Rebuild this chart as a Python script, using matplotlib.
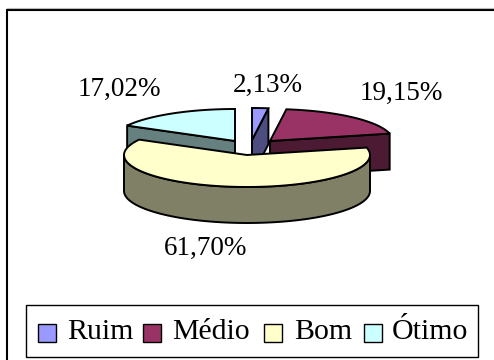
import numpy as np
import matplotlib
matplotlib.use('Agg')
import matplotlib.pyplot as plt
from matplotlib.patches import Polygon, Rectangle

# Data
categories = ['Ruim', 'Médio', 'Bom', 'Ótimo']
values = [2.13, 19.15, 61.70, 17.02]
value_labels = ['2,13%', '19,15%', '61,70%', '17,02%']

# Colours
top_colors = ['#9999FF', '#993366', '#FFFFCC', '#CCFFFF']
side_colors = ['#4D4D80', '#4D1A33', '#808066', '#668080']

# Pie geometry, in pixels
cx, cy = 247, 155
rx, ry = 123, 32
depth = 36
explode = [(5, -15), (23, -14), (0, 0), (-12, -14)]
label_pos = [(268, 85), (401, 93), (206, 248), (119, 89)]


def project(angle, dx, dy):
    # angle runs clockwise from twelve o'clock
    x = cx + dx + rx * np.sin(angle)
    y = cy + dy - ry * np.cos(angle)
    return np.column_stack([x, y])


def draw_slice(ax, a0, a1, offset, top, side, zorder):
    dx, dy = offset
    apex = np.array([[cx + dx, cy + dy]])
    down = np.array([[0, depth]])
    arc = project(np.linspace(a0, a1, 80), dx, dy)
    lw = 1.4

    # only the faces turned towards the viewer get drawn
    ends = []
    if a1 < np.pi:
        ends.append(arc[-1:])
    if a0 > np.pi:
        ends.append(arc[:1])
    for end in ends:
        face = np.vstack([apex, end, end + down, apex + down])
        ax.add_patch(Polygon(face, closed=True, fc=side, ec='black', lw=lw, zorder=zorder))

    w0, w1 = max(a0, np.pi / 2), min(a1, 3 * np.pi / 2)
    if w0 < w1:
        rim = project(np.linspace(w0, w1, 80), dx, dy)
        wall = np.vstack([rim, (rim + down)[::-1]])
        ax.add_patch(Polygon(wall, closed=True, fc=side, ec='black', lw=lw, zorder=zorder))

    ax.add_patch(Polygon(np.vstack([apex, arc]), closed=True, fc=top, ec='black', lw=lw, zorder=zorder))


fig = plt.figure(figsize=(4.94, 3.60), dpi=100)
ax = fig.add_axes([0, 0, 1, 1])
ax.set_xlim(0, 494)
ax.set_ylim(360, 0)
ax.axis('off')

serif = ['Liberation Serif', 'DejaVu Serif']

# Chart area frame, cut by the image on the right and at the bottom
ax.plot([6.5, 6.5], [360, 9.5], color='black', lw=1.5, solid_capstyle='projecting')
ax.plot([6.5, 494], [9.5, 9.5], color='black', lw=1.5, solid_capstyle='butt')
ax.plot([6.5, 494], [8, 8], color='#bbbbbb', lw=0.8)

# Slices, back ones first so the large front slice covers them
edges = 2 * np.pi * np.concatenate([[0], np.cumsum(values)]) / np.sum(values)
for z, i in enumerate([3, 0, 1, 2]):
    draw_slice(ax, edges[i], edges[i + 1], explode[i], top_colors[i], side_colors[i], 2 + z)

for text, (x, y) in zip(value_labels, label_pos):
    ax.text(x, y, text, fontsize=19.5, family=serif, ha='center', va='center', zorder=10)

# Legend
ax.add_patch(Rectangle((26, 305), 452, 52, fc='white', ec='black', lw=1.0, zorder=8))
swatch_x = [38, 143, 264, 364]
text_x = [67, 172, 294, 392]
for name, color, sx, tx in zip(categories, top_colors, swatch_x, text_x):
    ax.add_patch(Rectangle((sx, 324), 18, 18, fc=color, ec='black', lw=1.0, zorder=9))
    ax.text(tx, 332, name, fontsize=21.5, family=serif, ha='left', va='center', zorder=10)

fig.savefig('out.png', dpi=100)
